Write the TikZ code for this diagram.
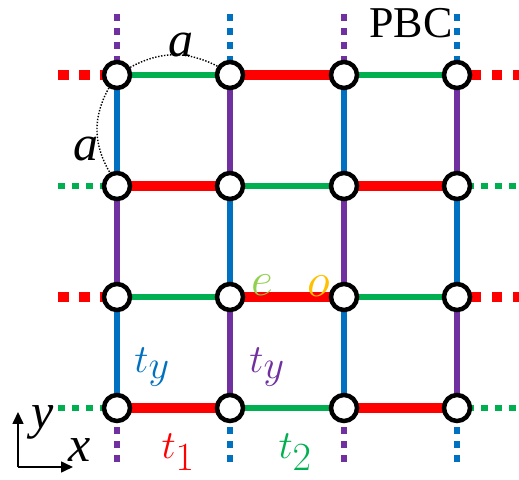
\RequirePackage{fix-cm}
\documentclass[tikz,border=0pt]{standalone}
\usepackage{fontspec}
\setmainfont{Liberation Serif}
\usepackage{tikz}
\usetikzlibrary{arrows.meta,backgrounds}
\definecolor{tonered}{HTML}{FF0000}
\definecolor{ttwogreen}{HTML}{00B050}
\definecolor{tyblue}{HTML}{0070C0}
\definecolor{typurple}{HTML}{7030A0}
\definecolor{evengreen}{HTML}{92D050}
\definecolor{oddorange}{HTML}{FFC000}

\begin{document}
\begin{tikzpicture}[
  x=1pt,y=1pt,
  site/.style={circle,draw=black,fill=white,line width=4.5pt,minimum size=26pt,inner sep=0pt},
  redbond/.style={line width=10pt,tonered},
  greenbond/.style={line width=6.5pt,ttwogreen},
  bluebond/.style={line width=6.5pt,tyblue},
  purplebond/.style={line width=6.5pt,typurple},
  reddash/.style={redbond,dash pattern=on 10.5pt off 10.5pt},
  greendot/.style={greenbond,dash pattern=on 7pt off 7pt},
  bluedot/.style={bluebond,dash pattern=on 7pt off 7pt},
  purpledot/.style={purplebond,dash pattern=on 7pt off 7pt},
  arcdot/.style={black,line width=1.4pt,dash pattern=on 1.4pt off 1.6pt},
  axis/.style={-{Triangle[length=12pt,width=11pt]},line width=1.6pt},
  biglabel/.style={inner sep=0pt,font=\fontsize{50}{54}\selectfont\itshape},
  oelabel/.style={inner sep=0pt,font=\fontsize{48}{52}\selectfont},
  hoplabel/.style={inner sep=0pt,font=\fontsize{40}{46}\selectfont}
]
  \useasboundingbox (0,0) rectangle (519,479);

  % lattice sites
  \foreach \r/\y in {1/404,2/293,3/182,4/71}
    \foreach \c/\x in {1/117,2/230,3/344,4/457}
      \node[site] (n\r\c) at (\x,\y) {};

  % free ends of the boundary bonds
  \foreach \r/\y in {1/404,2/293,3/182,4/71} {
    \coordinate (w\r) at (58,\y);
    \coordinate (e\r) at (523,\y);
    \coordinate (g\r) at (516,\y);
  }
  \foreach \c/\x in {1/117,2/230,3/344,4/457} {
    \coordinate (t\c) at (\x,465);
    \coordinate (b\c) at (\x,17);
  }

  \begin{scope}[on background layer]
    % horizontal bonds
    \draw[greenbond] (n11.center)--(n12.center);
    \draw[redbond] (n12.center)--(n13.center);
    \draw[greenbond] (n13.center)--(n14.center);
    \draw[redbond] (n21.center)--(n22.center);
    \draw[greenbond] (n22.center)--(n23.center);
    \draw[redbond] (n23.center)--(n24.center);
    \draw[greenbond] (n31.center)--(n32.center);
    \draw[redbond] (n32.center)--(n33.center);
    \draw[greenbond] (n33.center)--(n34.center);
    \draw[redbond] (n41.center)--(n42.center);
    \draw[greenbond] (n42.center)--(n43.center);
    \draw[redbond] (n43.center)--(n44.center);
    % vertical bonds
    \foreach \c/\ca/\cb in {1/bluebond/purplebond,2/purplebond/bluebond,3/bluebond/purplebond,4/purplebond/bluebond} {
      \draw[\ca] (n1\c.center)--(n2\c.center);
      \draw[\cb] (n2\c.center)--(n3\c.center);
      \draw[\ca] (n3\c.center)--(n4\c.center);
    }
    % periodic boundary stubs
    \foreach \r in {1,3} {
      \draw[reddash] (w\r)--(n\r1.center);
      \draw[reddash] (e\r)--(n\r4.center);
    }
    \foreach \r in {2,4} {
      \draw[greendot] (w\r)--(n\r1.center);
      \draw[greendot] (g\r)--(n\r4.center);
    }
    \foreach \c/\s in {1/purpledot,2/bluedot,3/purpledot,4/bluedot} {
      \draw[\s] (t\c)--(n1\c.center);
      \draw[\s] (b\c)--(n4\c.center);
    }
  \end{scope}

  % lattice constant
  \draw[arcdot] (n11.30) to[bend left=28] (n12.145);
  \draw[arcdot] (n11.238) to[bend right=30] (n21.118);
  \node[biglabel] (atop) at (181,434) {a};
  \node[biglabel] (aleft) at (86,330) {a};

  \node[inner sep=0pt,font=\fontsize{44}{48}\selectfont] (pbc) at (411,456) {PBC};

  % hoppings
  \node[hoplabel,text=tyblue] (tyb) at (152,112) {$t_{\textstyle y}$};
  \node[hoplabel,text=typurple] (typ) at (267,112) {$t_{\textstyle y}$};
  \node[hoplabel,text=tonered] (tone) at (178,27) {$t_{\textstyle 1}$};
  \node[hoplabel,text=ttwogreen] (ttwo) at (295,27) {$t_{\textstyle 2}$};
  \node[oelabel,text=evengreen] (even) at (262,194) {$e$};
  \node[oelabel,text=oddorange] (odd) at (319,193) {$o$};

  % axes
  \coordinate (orig) at (18,12);
  \coordinate (yend) at (18,67);
  \coordinate (xend) at (73,12);
  \draw[axis] (orig)--(yend);
  \draw[axis] (orig)--(xend);
  \node[biglabel] (ylab) at (43,57) {y};
  \node[biglabel] (xlab) at (80,29) {x};
\end{tikzpicture}
\end{document}
